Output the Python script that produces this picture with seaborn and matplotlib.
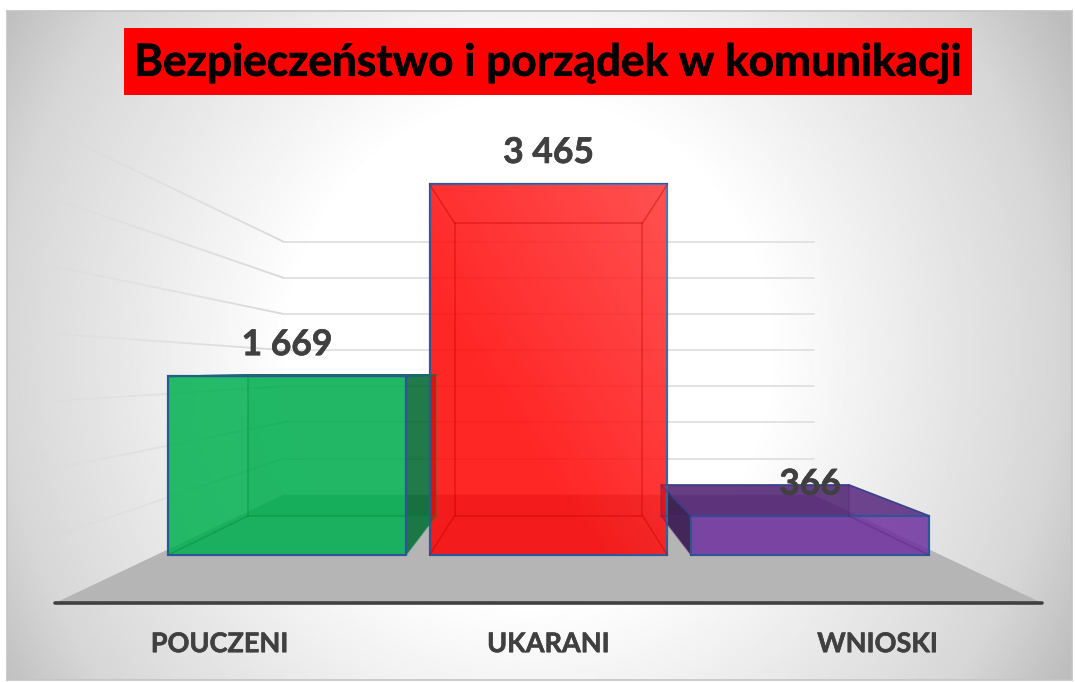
"""Bezpieczenstwo i porzadek w komunikacji: 3D look bar chart."""
import matplotlib
matplotlib.use("Agg")
import matplotlib.patheffects as pe
import matplotlib.pyplot as plt
import numpy as np
import pandas as pd
import seaborn as sns
from matplotlib.colors import to_rgba
from matplotlib.patches import Polygon, Rectangle

TITLE = "Bezpieczeństwo i porządek w komunikacji"
CATEGORIES = ["POUCZENI", "UKARANI", "WNIOSKI"]
VALUES = [1669, 3465, 366]
VALUE_LABELS = ["1 669", "3 465", "366"]
COLORS = ["#00b050", "#ff0000", "#7030a0"]
SHEEN = [0.0, 0.2, 0.0]
WALL_TICKS = [500, 1000, 1500, 2000, 2500, 3000, 3500]

W, H = 1075, 682
# one point perspective: depth factors relative to the plane of the bar fronts
BACK, WALL, FRONT = 0.79, 0.676, 1.258
VX, VY = 1.0, 1738.0
EDGE = "#2f5597"
TEXT = "#404040"


def project(x, y, k):
    return VX + k * (x - VX), VY + k * (y - VY)


def shade(color, factor, alpha):
    r, g, b, _ = to_rgba(color)
    return (r * factor, g * factor, b * factor, alpha)


def draw_background(fig):
    bg = fig.add_axes([7 / W, 1 - 680 / H, (1072 - 7) / W, (680 - 11) / H], zorder=0)
    xx, yy = np.meshgrid(np.linspace(-1, 1, 533), np.linspace(-1, 1, 335))
    d = np.hypot(xx + 0.02, 0.6 * (yy - 0.02))
    grad = np.interp(d, [0.45, 1.0, 1.17], [1.0, 0.84, 0.74])
    bg.imshow(grad, cmap="gray", vmin=0, vmax=1, aspect="auto", interpolation="bilinear")
    bg.set_xticks([])
    bg.set_yticks([])
    for s in bg.spines.values():
        s.set_color("#c4c4c4")
        s.set_linewidth(1.2)


def draw_room(ax):
    x0, x1 = -0.5, 2.5
    corners = [project(x0, 0, FRONT), project(x1, 0, FRONT),
               project(x1, 0, WALL), project(x0, 0, WALL)]
    ax.add_patch(Polygon(corners, closed=True, fc="#b5b5b5", ec="none", zorder=1))
    for tick in WALL_TICKS:
        xa, ya = project(x0, tick, WALL)
        xb, yb = project(x1, tick, WALL)
        ax.plot([xa, xb], [ya, yb], color="#e0e0e0", lw=1.3, zorder=1.1)
        # side wall, fading towards the viewer
        ks = np.linspace(WALL, FRONT, 25)
        for k0, k1, a in zip(ks[:-1], ks[1:], np.linspace(1, 0.15, 24)):
            p0 = project(x0, tick, k0)
            p1 = project(x0, tick, k1)
            ax.plot([p0[0], p1[0]], [p0[1], p1[1]], color="#d8d8d8", alpha=a,
                    lw=1.3, solid_capstyle="butt", zorder=1.1)


def draw_box(ax, xa, xb, h, color, sheen_max):
    fa = project(xa, 0, BACK)
    fb = project(xb, 0, BACK)
    ta = project(xa, h, BACK)
    tb = project(xb, h, BACK)

    # faces sticking out of the front rectangle
    if tb[0] > xb:
        ax.add_patch(Polygon([(xb, 0), (xb, h), tb, fb], closed=True, fc=shade(color, 0.62, 0.85),
                             ec="none", zorder=2))
    if ta[0] < xa:
        ax.add_patch(Polygon([(xa, 0), (xa, h), ta, fa], closed=True, fc=shade(color, 0.5, 0.9),
                             ec="none", zorder=2))
    if ta[1] > h:
        ax.add_patch(Polygon([(xa, h), (xb, h), tb, ta], closed=True, fc=shade(color, 0.78, 0.85),
                             ec=EDGE, lw=1.2, zorder=2))
        ax.add_patch(Rectangle(fa, fb[0] - fa[0], ta[1] - fa[1], fc=shade(color, 0.4, 0.14),
                               ec="none", zorder=2.1))

    # sheen on the front face, stronger towards the top right
    if sheen_max > 0:
        gx, gy = np.meshgrid(np.linspace(0, 1, 60), np.linspace(1, 0, 60))
        sheen = np.ones((60, 60, 4))
        sheen[..., 3] = sheen_max * np.clip(0.75 * gx + 0.75 * gy - 0.5, 0, 1)
        ax.imshow(sheen, extent=(xa, xb, 0, h), aspect="auto", zorder=3.5,
                  interpolation="bilinear")

    # inner edges seen through the front face
    dark = shade(color, 0.75, 0.4)
    lines = [([fa[0], fb[0]], [fa[1], fb[1]]), ([fa[0], ta[0]], [fa[1], ta[1]]),
             ([fb[0], tb[0]], [fb[1], tb[1]]), ([ta[0], tb[0]], [ta[1], tb[1]]),
             ([xa, fa[0]], [0, fa[1]]), ([xb, fb[0]], [0, fb[1]]),
             ([xa, ta[0]], [h, ta[1]]), ([xb, tb[0]], [h, tb[1]])]
    for lx, ly in lines:
        ax.plot(lx, ly, color=dark, lw=1.1, zorder=4)


def main():
    sns.set_theme(style="white")
    plt.rcParams["font.family"] = ["Lato", "DejaVu Sans"]

    df = pd.DataFrame({"kategoria": CATEGORIES, "liczba": VALUES})

    fig = plt.figure(figsize=(W / 100, H / 100), dpi=100, facecolor="white")
    draw_background(fig)

    ax = fig.add_axes([0, 0, 1, 1], zorder=1)
    ax.patch.set_visible(False)
    sns.barplot(data=df, x="kategoria", y="liczba", hue="kategoria", palette=COLORS,
                saturation=1, width=0.91, edgecolor=EDGE, linewidth=1.6, legend=False,
                ax=ax, zorder=3)
    xlim = (-287 / 261.5, (W - 287) / 261.5)
    ylim = (-(H - 555) / 0.107, 555 / 0.107)
    ax.set_xlim(xlim)
    ax.set_ylim(ylim)

    draw_room(ax)
    for container, color, label, sheen_max in zip(ax.containers, COLORS, VALUE_LABELS, SHEEN):
        bar = container[0]
        bar.set_facecolor(to_rgba(color, 0.85))
        draw_box(ax, bar.get_x(), bar.get_x() + bar.get_width(), bar.get_height(), color, sheen_max)
        texts = ax.bar_label(container, labels=[label], padding=11, fontsize=25.5,
                             fontweight="bold", color=TEXT, zorder=6)
        for t in texts:
            t.set_path_effects([pe.withStroke(linewidth=0.5, foreground=TEXT)])
    ax.set_xlim(xlim)
    ax.set_ylim(ylim)

    # floor front edge is the category axis, labels spread with the perspective
    floor_y = project(0, 0, FRONT)[1]
    for name in ["top", "left", "right"]:
        ax.spines[name].set_visible(False)
    spine = ax.spines["bottom"]
    spine.set_position(("data", floor_y))
    spine.set_bounds(project(-0.5, 0, FRONT)[0], project(2.5, 0, FRONT)[0])
    spine.set_color(TEXT)
    spine.set_linewidth(2.6)
    spine.set_capstyle("round")
    ax.set_xticks([project(i, 0, FRONT)[0] for i in range(len(CATEGORIES))], CATEGORIES)
    ax.tick_params(axis="x", length=0, pad=21, labelsize=19.5, labelcolor=TEXT)
    for t in ax.get_xticklabels():
        t.set_fontweight("bold")
        t.set_path_effects([pe.withStroke(linewidth=0.4, foreground=TEXT)])
    ax.set_yticks([])
    ax.set_xlabel("")
    ax.set_ylabel("")

    fig.add_artist(Rectangle((124 / W, 1 - 95 / H), 848 / W, 67 / H, transform=fig.transFigure,
                             fc="#ff0000", ec="none", zorder=3))
    title = fig.text(548 / W, 1 - 63 / H, TITLE, ha="center", va="center", fontsize=31.8,
                     fontweight="bold", color="black", zorder=4)
    title.set_path_effects([pe.withStroke(linewidth=0.5, foreground="black")])

    fig.savefig("out.png", dpi=100, facecolor="white")
    plt.close(fig)


if __name__ == "__main__":
    main()
